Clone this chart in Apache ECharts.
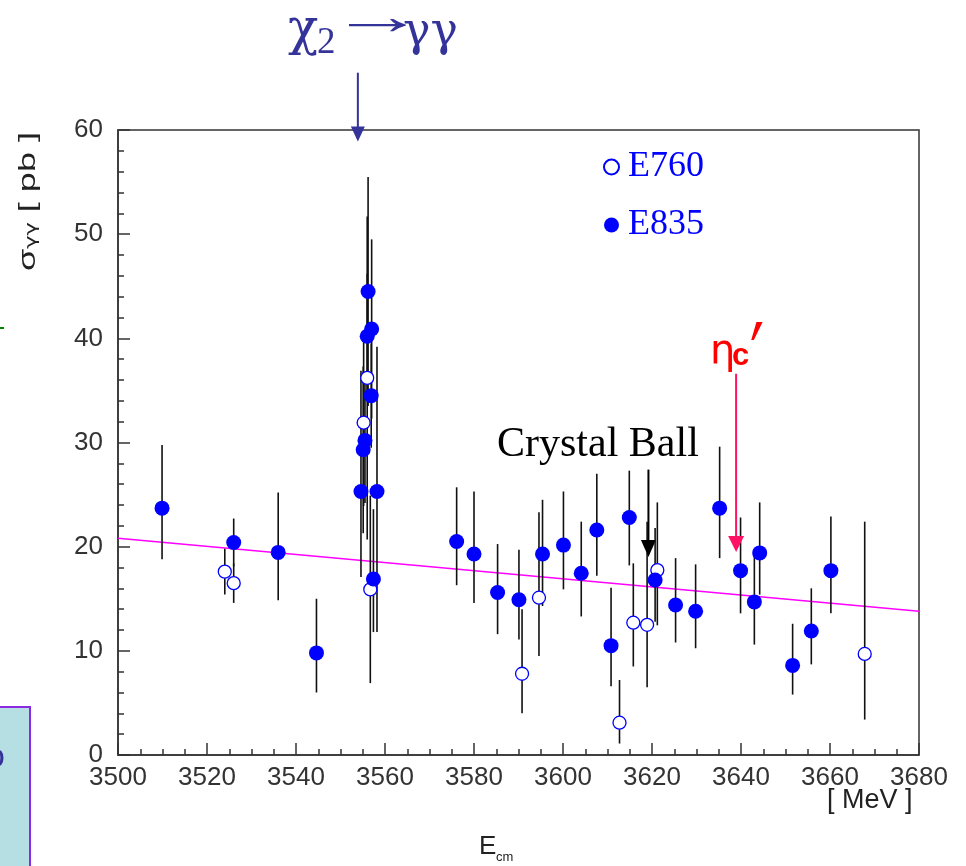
<!DOCTYPE html>
<html>
<head>
<meta charset="utf-8">
<script src="https://cdn.jsdelivr.net/npm/echarts@6/dist/echarts.min.js"></script>
<style>
  html, body { margin: 0; padding: 0; background: #fff; }
  #chart { width: 966px; height: 866px; }
</style>
</head>
<body>
<div id="chart"></div>
<script>
// E835 (filled circles)
var e835X = [3509.9, 3526.0, 3536.0, 3544.6, 3554.6, 3555.1, 3555.5, 3556.0, 3556.2, 3556.9, 3557.0, 3557.4, 3558.2,
  3576.1, 3580.0, 3585.3, 3590.1, 3595.4, 3600.1, 3604.1, 3607.6, 3610.8, 3614.9, 3620.7, 3625.3, 3629.8,
  3635.2, 3639.9, 3643.0, 3644.2, 3651.6, 3655.8, 3660.2];
var e835Y = [23.7, 20.4, 19.45, 9.8, 25.3, 29.3, 30.2, 40.2, 44.5, 34.5, 40.9, 16.9, 25.3,
  20.5, 19.3, 15.6, 14.9, 19.3, 20.15, 17.45, 21.6, 10.5, 22.8, 16.8, 14.4, 13.8,
  23.7, 17.7, 14.7, 19.4, 8.6, 11.9, 17.7];
var e835Up = [6.05, 2.3, 5.75, 5.2, 11.6, 8, 6, 6, 11, 5, 8.6, 6.7, 13.9,
  5.2, 6.0, 4.65, 4.8, 5.2, 5.15, 4.95, 5.4, 5.55, 4.5, 5.0, 4.5, 4.5,
  5.9, 5.1, 5.0, 4.85, 4.0, 4.1, 5.2];
var e835Down = [4.9, 2.3, 4.6, 3.8, 8.2, 8, 6, 6, 11, 5, 8.6, 5.1, 13.5,
  4.2, 4.7, 4.0, 3.8, 5.0, 4.25, 4.15, 4.4, 3.9, 4.6, 4.0, 3.6, 3.55,
  4.8, 4.1, 4.1, 4.0, 2.8, 3.2, 4.1];

// E760 (open circles)
var e760X = [3524.0, 3526.0, 3555.2, 3556.0, 3556.7, 3590.8, 3594.6, 3612.7, 3615.8, 3618.9, 3621.2, 3667.8];
var e760Y = [17.6, 16.5, 31.9, 36.2, 15.9, 7.8, 15.1, 3.1, 12.7, 12.5, 17.75, 9.7];
var e760Up = [2.2, 1.9, 8, 15.5, 9, 6.2, 8.2, 4.1, 5.7, 9.9, 6.5, 12.7];
var e760Down = [2.2, 1.9, 8, 15.5, 9, 3.8, 5.6, 2.0, 4.2, 6.0, 5.3, 6.3];

// background fit line
var fitX = [3500, 3680];
var fitY = [20.8, 13.8];

function pts(xs, ys) {
  return xs.map(function (x, i) { return [x, ys[i]]; });
}
function bars(xs, ys, up, down) {
  return xs.map(function (x, i) { return [x, ys[i] - down[i], ys[i] + up[i]]; });
}

function renderBar(params, api) {
  var p1 = api.coord([api.value(0), api.value(1)]);
  var p2 = api.coord([api.value(0), api.value(2)]);
  return {
    type: 'line',
    shape: { x1: p1[0], y1: p1[1], x2: p2[0], y2: p2[1] },
    style: { stroke: '#111', lineWidth: 1.6 }
  };
}

var axisFont = { fontFamily: 'Liberation Sans', fontSize: 26, color: '#333' };

var chart = echarts.init(document.getElementById('chart'));
chart.setOption({
  animation: false,
  backgroundColor: '#fff',
  grid: { left: 118, right: 47, top: 130, bottom: 111, show: true, borderColor: '#333', borderWidth: 1.5 },
  legend: {
    orient: 'vertical',
    left: 598,
    top: 142,
    itemGap: 18,
    itemWidth: 15,
    itemHeight: 15,
    data: ['E760', 'E835'],
    textStyle: { fontFamily: 'Liberation Serif', fontSize: 36, color: '#0000ff', lineHeight: 40, padding: [0, 0, 0, 4] }
  },
  xAxis: {
    type: 'value', min: 3500, max: 3680, interval: 20,
    axisLine: { lineStyle: { color: '#333', width: 1.5 } },
    axisTick: { inside: true, length: 12, lineStyle: { color: '#333', width: 1.5 } },
    minorTick: { show: true, splitNumber: 4, length: 6, lineStyle: { color: '#333', width: 1.5 } },
    axisLabel: Object.assign({ margin: 10, formatter: function (v) { return String(v); } }, axisFont),
    splitLine: { show: false }
  },
  yAxis: {
    type: 'value', min: 0, max: 60, interval: 10,
    axisLine: { show: true, lineStyle: { color: '#333', width: 1.5 } },
    axisTick: { show: true, inside: true, length: 12, lineStyle: { color: '#333', width: 1.5 } },
    minorTick: { show: true, splitNumber: 5, length: 6, lineStyle: { color: '#333', width: 1.5 } },
    axisLabel: Object.assign({ margin: 15 }, axisFont),
    splitLine: { show: false }
  },
  series: [
    {
      type: 'line', data: pts(fitX, fitY), symbol: 'none',
      lineStyle: { color: '#ff00ff', width: 1.5 }, z: 1, silent: true
    },
    { type: 'custom', renderItem: renderBar, data: bars(e835X, e835Y, e835Up, e835Down), z: 2, encode: { x: 0, y: [1, 2] } },
    { type: 'custom', renderItem: renderBar, data: bars(e760X, e760Y, e760Up, e760Down), z: 2, encode: { x: 0, y: [1, 2] } },
    {
      name: 'E760', type: 'scatter', data: pts(e760X, e760Y), symbol: 'circle', symbolSize: 13, z: 3,
      itemStyle: { color: '#fff', borderColor: '#0000ff', borderWidth: 1.3, opacity: 1 }
    },
    {
      name: 'E835', type: 'scatter', data: pts(e835X, e835Y), symbol: 'circle', symbolSize: 15, z: 4,
      itemStyle: { color: '#0000ff', opacity: 1 }
    }
  ]
});

// annotation arrows, placed in data coordinates
function px(x, y) { return chart.convertToPixel({ gridIndex: 0 }, [x, y]); }
function arrow(x, yFrom, yTo, color, w, headW, headH) {
  var a = px(x, yFrom), b = px(x, yTo);
  return [
    { type: 'line', shape: { x1: a[0], y1: a[1], x2: b[0], y2: b[1] - headH + 2 }, style: { stroke: color, lineWidth: w }, z: 20 },
    { type: 'polygon', shape: { points: [[b[0] - headW / 2, b[1] - headH], [b[0] + headW / 2, b[1] - headH], [b[0], b[1]]] }, style: { fill: color }, z: 20 }
  ];
}
function txt(s, x, y, font, size, color, extra) {
  var st = { text: s, x: x, y: y, fontFamily: font, fontSize: size, fill: color, textVerticalAlign: 'bottom' };
  var el = { type: 'text', z: 20, style: st };
  if (extra) { for (var k in extra) el[k] = extra[k]; }
  return el;
}

var g = [];
g = g.concat(arrow(3553.9, 65.5, 58.9, '#333399', 2, 14, 15));
g = g.concat(arrow(3619.2, 27.4, 19.0, '#000', 2, 15, 17));
g = g.concat(arrow(3638.9, 36.6, 19.5, '#ff1166', 2, 16, 16));

// chi_2 -> gamma gamma
var blue = '#333399';
g.push(txt('χ', 288, 56, 'DejaVu Serif', 50, blue));
g.push(txt('2', 317, 62, 'Liberation Serif', 37, blue));
g.push(txt('→', 0, 0, 'Liberation Serif', 52, blue, { x: 329, y: 46, scaleX: 1.85 }));
g.push(txt('γγ', 403, 56, 'DejaVu Serif', 46, blue));

g.push(txt('Crystal Ball', 497, 466, 'Liberation Serif', 42, '#000'));

// eta_c'
var etaC = txt('c', 732, 372, 'Liberation Sans', 31, '#ff0000');
etaC.style.fontWeight = 'bold';
g.push(txt('η', 710, 373, 'DejaVu Sans', 40, '#ff0000'));
g.push(etaC);
g.push(txt('′', 0, 0, 'DejaVu Sans', 62, '#ff0000', { x: 750, y: 419, scaleY: 1.6 }));

// y axis title, rotated
g.push({
  type: 'text', x: 40, y: 271, rotation: Math.PI / 2, scaleX: 1.5, z: 20,
  style: {
    text: '{a|σ}{s|γγ}{a| [ pb ]}',
    textVerticalAlign: 'bottom',
    rich: {
      a: { fontFamily: 'Liberation Sans', fontSize: 24, fill: '#222', lineHeight: 30, verticalAlign: 'bottom' },
      s: { fontFamily: 'DejaVu Sans', fontSize: 15, fill: '#222', lineHeight: 14, verticalAlign: 'bottom' }
    }
  }
});
g.push(txt('[ MeV ]', 827, 814, 'Liberation Sans', 27, '#222'));
g.push(txt('E', 479, 860, 'Liberation Sans', 26, '#222'));
g.push(txt('cm', 496, 864, 'Liberation Sans', 13, '#222'));

// cropped slide elements at the left edge
g.push({ type: 'rect', shape: { x: -4, y: 707, width: 34, height: 170 }, style: { fill: '#b6dfe3', stroke: '#8a2be2', lineWidth: 2 }, z: 5 });
g.push(txt('o', -14, 775, 'Liberation Sans', 34, '#333399', { z: 6 }));
g.push({ type: 'rect', shape: { x: 0, y: 327, width: 4, height: 2 }, style: { fill: '#008800' }, z: 5 });

chart.setOption({ graphic: g });
</script>
</body>
</html>
